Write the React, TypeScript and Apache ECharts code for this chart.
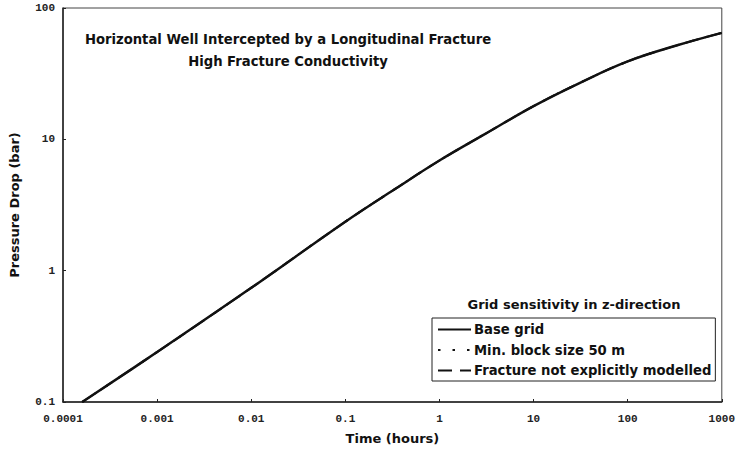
import React, { useEffect, useRef } from "react";
import * as echarts from "echarts";

const timeHours = [0.00016, 0.001, 0.01, 0.1, 0.34, 1, 3, 10, 30, 100, 336, 1000];
const baseGrid = [0.1, 0.24, 0.74, 2.36, 4.2, 6.9, 10.9, 17.9, 26.6, 39.2, 52, 64.7];
const minBlock50m = [0.1, 0.24, 0.74, 2.36, 4.2, 6.9, 10.9, 17.9, 26.6, 39.2, 52, 64.7];
const fractureNotModelled = [0.1, 0.24, 0.74, 2.36, 4.2, 6.9, 10.9, 17.9, 26.6, 39.2, 52, 64.7];

const xTickLabels = ["0.0001", "0.001", "0.01", "0.1", "1", "10", "100", "1000"];
const yTickLabels = ["0.1", "1", "10", "100"];

const seriesNames = ["Base grid", "Min. block size 50 m", "Fracture not explicitly modelled"];

const titleLine1 = "Horizontal Well Intercepted by a Longitudinal Fracture";
const titleLine2 = "High Fracture Conductivity";
const legendTitle = "Grid sensitivity in z-direction";

const pairs = (ys: number[]) => timeHours.map((t, i) => [t, ys[i]]);

export default function App() {
  const ref = useRef<HTMLDivElement>(null);
  useEffect(() => {
    if (!ref.current) return;
    const chart = echarts.init(ref.current, null, { renderer: "svg" });
    const sansBold = { fontFamily: "DejaVu Sans", fontWeight: "bold" as const, color: "#111" };
    const monoBold = { fontFamily: "Liberation Mono", fontWeight: "bold" as const, color: "#222", fontSize: 11 };
    chart.setOption({
      animation: false,
      backgroundColor: "#fff",
      title: [
        { text: titleLine1, left: 283, top: 28, textAlign: "center", textStyle: { ...sansBold, fontSize: 13.2 } },
        { text: titleLine2, left: 283, top: 50, textAlign: "center", textStyle: { ...sansBold, fontSize: 13.2 } },
        { text: legendTitle, left: 569, top: 293, textAlign: "center", textStyle: { ...sansBold, fontSize: 13 } },
      ],
      grid: {
        left: 62, right: 13, top: 8, bottom: 45,
        show: true, borderColor: "#444", borderWidth: 1,
      },
      legend: {
        orient: "vertical",
        left: 432, top: 318,
        itemWidth: 33, itemHeight: 10, itemGap: 7.5,
        padding: [5, 4, 4, 5],
        borderColor: "#222", borderWidth: 1,
        backgroundColor: "#fff",
        data: seriesNames,
        itemStyle: { opacity: 0 },
        textStyle: { ...sansBold, fontSize: 13.2, padding: [0, 0, 0, -2] },
      },
      xAxis: {
        type: "log", logBase: 10, min: 0.0001, max: 1000,
        name: "Time (hours)", nameLocation: "middle", nameGap: 30,
        nameTextStyle: { ...sansBold, fontSize: 13 },
        axisLine: { show: true, lineStyle: { color: "#222", width: 1.5 } },
        axisTick: { show: true, inside: true, length: 3, lineStyle: { color: "#222" } },
        minorTick: { show: false },
        splitLine: { show: false },
        axisLabel: { ...monoBold, margin: 11, formatter: (_v: number, i: number) => xTickLabels[i] ?? "" },
      },
      yAxis: {
        type: "log", logBase: 10, min: 0.1, max: 100,
        name: "Pressure Drop (bar)", nameLocation: "middle", nameGap: 42, nameRotate: 90,
        nameTextStyle: { ...sansBold, fontSize: 13 },
        axisLine: { show: true, lineStyle: { color: "#222", width: 1.5 } },
        axisTick: { show: true, inside: true, length: 3, lineStyle: { color: "#222" } },
        splitLine: { show: false },
        axisLabel: { ...monoBold, margin: 8, formatter: (_v: number, i: number) => yTickLabels[i] ?? "" },
      },
      series: [
        {
          name: seriesNames[0], type: "line", data: pairs(baseGrid), smooth: 0.4,
          symbol: "none", lineStyle: { color: "#111", width: 2.5, type: "solid" }, itemStyle: { color: "#111" }, z: 3,
        },
        {
          name: seriesNames[1], type: "line", data: pairs(minBlock50m), smooth: 0.4,
          symbol: "none", lineStyle: { color: "#111", width: 2, type: [2.5, 12] }, itemStyle: { color: "#111" }, z: 2,
        },
        {
          name: seriesNames[2], type: "line", data: pairs(fractureNotModelled), smooth: 0.4,
          symbol: "none", lineStyle: { color: "#111", width: 2, type: [14, 8] }, itemStyle: { color: "#111" }, z: 2,
        },
      ],
    });
    return () => chart.dispose();
  }, []);
  return <div ref={ref} style={{ position: "absolute", left: 0, top: 0, width: 738, height: 450 }} />;
}
